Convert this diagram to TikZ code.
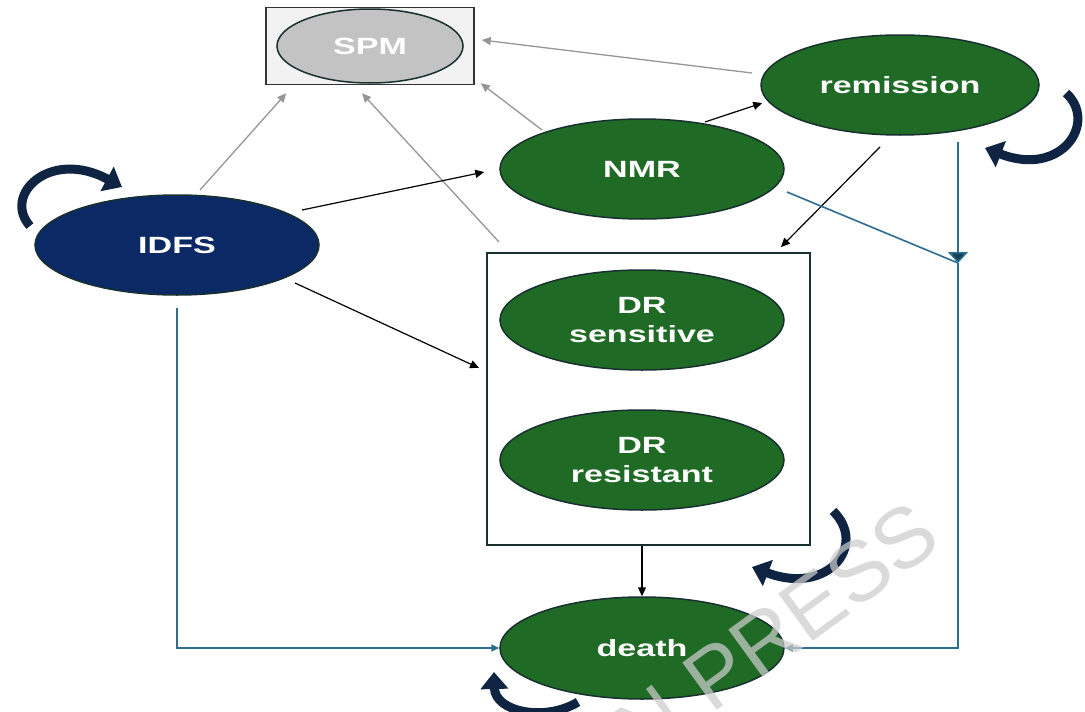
\documentclass[tikz,border=0pt]{standalone}
\usepackage{fontspec}
\setmainfont{Liberation Sans}[FakeStretch=1.45]
\newfontfamily\wmfont{Liberation Sans}
\usetikzlibrary{shapes.geometric,arrows.meta,calc}
\definecolor{grn}{RGB}{31,106,37}
\definecolor{edgec}{RGB}{24,48,48}
\definecolor{navyfill}{RGB}{11,41,100}
\definecolor{loopc}{RGB}{14,36,66}
\definecolor{tealc}{RGB}{43,110,142}
\definecolor{tealdark}{RGB}{20,65,90}
\definecolor{grayarr}{RGB}{150,150,150}
\definecolor{spmfill}{RGB}{195,195,195}
\definecolor{spmbg}{RGB}{242,242,242}
\definecolor{wmc}{RGB}{205,205,205}
\tikzset{
  state/.style={ellipse, draw=edgec, line width=1.5pt, fill=grn, text=white,
    font=\bfseries\fontsize{23.5}{29}\selectfont, inner sep=0pt, align=center,
    minimum width=284pt, minimum height=100pt},
  grayarrow/.style={draw=grayarr, line width=1.3pt, -{Triangle[length=9pt,width=8pt]}},
  blkarrow/.style={draw=black, line width=1.2pt, -{Triangle[length=9pt,width=8pt]}},
  tealline/.style={draw=tealc, line width=1.6pt},
  tealarrow/.style={tealline, -{Triangle[length=8pt,width=7pt]}},
  looparrow/.style={draw=loopc, line width=9pt, -{Triangle[length=17pt,width=27pt]}},
}
\begin{document}
\begin{tikzpicture}[x=1pt,y=-1pt]
\useasboundingbox (0,0) rectangle (1085,712);
\fill[white] (0,0) rectangle (1085,712);

% SPM
\node[draw=black!80, line width=1.5pt, fill=spmbg, minimum width=208pt, minimum height=77pt, inner sep=0pt] (spmbox) at (370,46) {};
\node[state, fill=spmfill, draw=edgec, minimum width=186pt, minimum height=74pt] (spm) at (370,46) {SPM};

% states
\node[state, fill=navyfill] (idfs) at (177,245) {IDFS};
\node[state] (nmr) at (642,169) {NMR};
\node[state, minimum width=278pt] (rem) at (900,85) {remission};
\node[draw=edgec, line width=1.8pt, minimum width=323pt, minimum height=292pt, inner sep=0pt] (drbox) at (648.5,399) {};
\node[state] (drs) at (642,320) {DR\\sensitive};
\node[state] (drr) at (642,460) {DR\\resistant};
\node[state, minimum height=102pt] (death) at (642,648) {death};

\coordinate (j) at (958,263);

% gray arrows to SPM
\draw[grayarrow] ($(rem.center)+(-148,-12)$) -- ($(spmbox.east)+(7,-6)$);
\draw[grayarrow] ($(nmr.center)+(-100,-39)$) -- ($(spmbox.south east)+(6,-2)$);
\draw[grayarrow] ($(drbox.north west)+(13,-10)$) -- ($(spmbox.south)+(-8,8)$);
\draw[grayarrow] ($(idfs.center)+(23,-55)$) -- ($(spmbox.south west)+(21,8)$);

% black arrows
\draw[blkarrow] ($(idfs.center)+(125,-35)$) -- ($(nmr.west)+(-15,3)$);
\draw[blkarrow] ($(nmr.center)+(63,-47)$) -- ($(rem.west)+(2,18)$);
\draw[blkarrow] ($(rem.center)+(-20,62)$) -- ($(drbox.north east)+(-30,-5)$);
\draw[blkarrow] ($(idfs.center)+(118,38)$) -- ($(drbox.west)+(-7,-31)$);
\draw[blkarrow] (death.north |- drbox.south) -- (death.north);

% teal
\draw[tealarrow] ($(idfs.south)+(0,12)$) |- (death.west);
\draw[tealline] ($(nmr.center)+(145,23)$) -- (j);
\draw[tealline, -{Triangle[length=11pt,width=20pt,fill=tealdark]}] ($(rem.center)+(58,57)$) -- (j);
\draw[tealarrow] (j) |- (death.east);

% self loops
\draw[looparrow] (30,226) .. controls (2,195) and (50,148) .. (122,187);
\draw[looparrow] (1066,93) .. controls (1098,122) and (1062,178) .. (985,148);
\draw[looparrow] (833,511) .. controls (868,545) and (828,596) .. (752,567);
\draw[looparrow] (578,702) .. controls (545,722) and (495,712) .. (494,672);

% watermark
\node[font=\wmfont\fontsize{85}{85}\selectfont, text=wmc, opacity=0.72, inner sep=0pt,
  anchor=base east, rotate=36] (wm) at (945,545) {IN PRESS};
\end{tikzpicture}
\end{document}
